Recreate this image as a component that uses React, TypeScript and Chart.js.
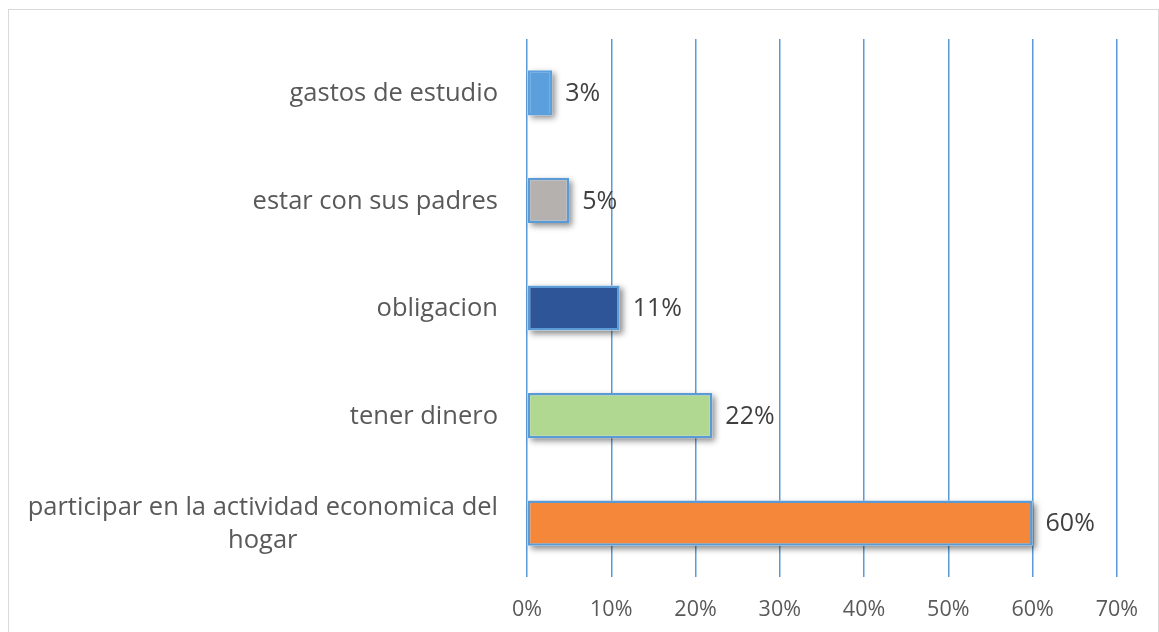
import React, { useEffect, useRef } from "react";
import { Chart, registerables } from "chart.js";

Chart.register(...registerables);

const categories: string[][] = [
  ["gastos de estudio"],
  ["estar con sus padres"],
  ["obligacion"],
  ["tener dinero"],
  ["participar en la actividad economica del", "hogar"],
];
const values: number[] = [0.03, 0.05, 0.11, 0.22, 0.6];
const valueLabels: string[] = ["3%", "5%", "11%", "22%", "60%"];
const barColors: string[] = ["#5B9FDD", "#B5B1AF", "#2E5597", "#B0D890", "#F4873A"];
const barBorders: string[] = ["#5B9FDD", "#5B9BD5", "#5B9BD5", "#5B9BD5", "#5B9BD5"];
const xTicks: number[] = [0, 0.1, 0.2, 0.3, 0.4, 0.5, 0.6, 0.7];

const FONT = "'Open Sans', Lato, sans-serif";

const shadowPlugin = {
  id: "barShadow",
  beforeDatasetsDraw(chart: any) {
    const ctx = chart.ctx;
    const meta = chart.getDatasetMeta(0);
    ctx.save();
    ctx.shadowColor = "rgba(0,0,0,0.45)";
    ctx.shadowBlur = 6;
    ctx.shadowOffsetX = 3;
    ctx.shadowOffsetY = 3;
    ctx.fillStyle = "#ffffff";
    meta.data.forEach((bar: any) => {
      const p = bar.getProps(["x", "y", "base", "height"], true);
      const left = Math.min(p.base, p.x);
      const w = Math.abs(p.x - p.base);
      ctx.fillRect(left, p.y - p.height / 2, w, p.height);
    });
    ctx.restore();
  },
  afterDatasetsDraw(chart: any) {
    const ctx = chart.ctx;
    const meta = chart.getDatasetMeta(0);
    ctx.save();
    ctx.fillStyle = "#404040";
    ctx.font = `25px ${FONT}`;
    ctx.textAlign = "left";
    ctx.textBaseline = "middle";
    meta.data.forEach((bar: any, i: number) => {
      const p = bar.getProps(["x", "y"], true);
      ctx.fillText(valueLabels[i], p.x + 13, p.y + 1);
    });
    ctx.restore();
  },
  afterDraw(chart: any) {
    const ctx = chart.ctx;
    const yScale = chart.scales.y;
    const rightEdge = chart.chartArea.left - 29;
    ctx.save();
    ctx.fillStyle = "#595959";
    ctx.font = `25.5px ${FONT}`;
    ctx.textAlign = "center";
    ctx.textBaseline = "middle";
    const lineH = 33;
    categories.forEach((lines, i) => {
      const y = yScale.getPixelForTick(i) + 1;
      const widest = Math.max(...lines.map((l) => ctx.measureText(l).width));
      const cx = rightEdge - widest / 2;
      const startY = y - ((lines.length - 1) * lineH) / 2;
      lines.forEach((l, j) => ctx.fillText(l, cx, startY + j * lineH));
    });
    ctx.restore();
  },
};

export default function App() {
  const canvasRef = useRef<HTMLCanvasElement | null>(null);

  useEffect(() => {
    if (!canvasRef.current) return;
    const chart = new Chart(canvasRef.current, {
      type: "bar",
      data: {
        labels: categories.map((c) => c.join(" ")),
        datasets: [
          {
            data: values,
            backgroundColor: barColors,
            borderColor: barBorders,
            borderWidth: 2.5,
            borderSkipped: false,
            barPercentage: 0.42,
            categoryPercentage: 1,
          },
        ],
      },
      options: {
        indexAxis: "y",
        responsive: true,
        maintainAspectRatio: false,
        animation: false,
        layout: { padding: { top: 29, right: 40, left: 0, bottom: 0 } },
        plugins: {
          legend: { display: false },
          tooltip: { enabled: false },
          title: { display: false },
        },
        scales: {
          x: {
            type: "linear",
            min: 0,
            max: 0.7,
            afterBuildTicks(scale: any) {
              scale.ticks = xTicks.map((v) => ({ value: v }));
            },
            afterFit(scale: any) {
              scale.height = 55;
            },
            ticks: {
              padding: 20,
              color: "#595959",
              font: { family: FONT, size: 21.5 },
              callback: (v: any) => `${Math.round(Number(v) * 100)}%`,
            },
            grid: {
              color: "#5B9BD5",
              lineWidth: 1.5,
              drawTicks: false,
            },
            border: { display: false },
          },
          y: {
            afterFit(scale: any) {
              scale.width = 518;
            },
            ticks: { display: false },
            grid: { display: false },
            border: { display: false },
          },
        },
      },
      plugins: [shadowPlugin],
    });
    return () => chart.destroy();
  }, []);

  return (
    <div
      style={{
        position: "absolute",
        left: 8,
        top: 9,
        width: 1151,
        height: 623,
        boxSizing: "border-box",
        borderTop: "1px solid #d9d9d9",
        borderLeft: "1px solid #d9d9d9",
        borderRight: "1px solid #d9d9d9",
        background: "#ffffff",
      }}
    >
      <div style={{ position: "relative", width: "100%", height: "100%" }}>
        <canvas ref={canvasRef} />
      </div>
    </div>
  );
}
